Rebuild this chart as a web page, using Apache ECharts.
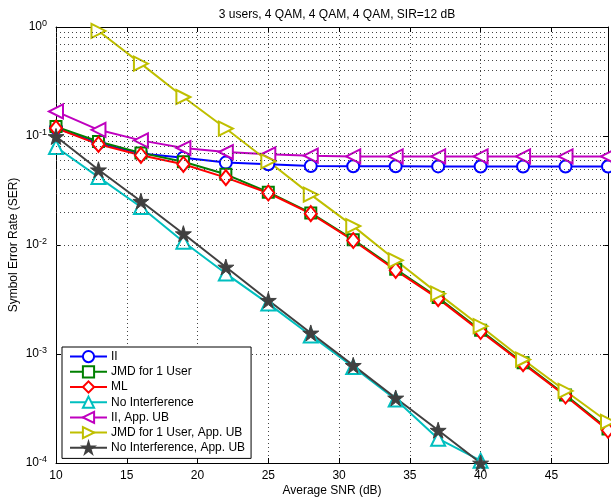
<!DOCTYPE html>
<html><head><meta charset="utf-8">
<script src="https://cdn.jsdelivr.net/npm/echarts@6/dist/echarts.min.js"></script>
<style>html,body{margin:0;padding:0;background:#fff}#c{width:611px;height:502px}</style>
</head><body><div id="c"></div>
<script>
var snr = [10,13,16,19,22,25,28,31,34,37,40,43,46,49];
var serII = [0.118,0.086,0.069,0.0633,0.057,0.055,0.053,0.0528,0.0527,0.0526,0.0525,0.0525,0.0525,0.0525];
var serJMD = [0.122,0.089,0.070,0.058,0.0445,0.0305,0.0197,0.0112,0.0060,0.0033,0.00165,0.00083,0.00042,0.000205];
var serML = [0.118,0.0839,0.0665,0.055,0.0415,0.030,0.0194,0.011,0.00586,0.00322,0.00161,0.000816,0.000412,0.0002];
var serNoInt = [0.0793,0.042,0.0223,0.0107,0.00547,0.0029,0.00148,0.00076,0.000382,0.000167,0.000105];
var serIIUB = [0.168,0.114,0.0912,0.0776,0.0713,0.068,0.066,0.065,0.065,0.065,0.065,0.065,0.065,0.065];
var serJMDUB = [null,0.92,0.461,0.228,0.117,0.0586,0.029,0.0149,0.00724,0.00358,0.0018,0.00089,0.000458,0.000238];
var serNoIntUB = [0.099,0.049,0.0252,0.0127,0.00628,0.00311,0.00156,0.000787,0.000395,0.0002,0.0001];
var names = ['II','JMD for 1 User','ML','No Interference','II, App. UB','JMD for 1 User, App. UB','No Interference, App. UB'];
var minorGrid = [];
[1e-4,1e-3,1e-2,1e-1].forEach(function(d){for(var k=2;k<=9;k++){minorGrid.push(+(d*k).toPrecision(3));}});

function pairs(ys){var out=[];for(var i=0;i<ys.length;i++){if(ys[i]!=null)out.push([snr[i],ys[i]]);}return out;}
var star = 'path://M50,0 L61,35 L98,35 L68,57 L79,91 L50,70 L21,91 L32,57 L2,35 L39,35 Z';
var FONT = 'Liberation Sans';
function mk(name, ys, color, symbol, size, rot){
  return {name:name,type:'line',data:pairs(ys),symbol:symbol,symbolSize:size,symbolRotate:rot||0,
    showAllSymbol:true,clip:true,
    lineStyle:{color:color,width:2},
    itemStyle:{color:color,borderColor:color,borderWidth:2},
    emphasis:{disabled:true},animation:false};
}
var series = [
  mk(names[0],serII,'#0000ff','emptyCircle',12),
  mk(names[1],serJMD,'#008000','emptyRect',11),
  mk(names[2],serML,'#ff0000','emptyDiamond',[12,15]),
  mk(names[3],serNoInt,'#00bfbf','emptyTriangle',14),
  mk(names[4],serIIUB,'#bf00bf','emptyTriangle',14,90),
  mk(names[5],serJMDUB,'#bfbf00','emptyTriangle',14,-90),
  mk(names[6],serNoIntUB,'#404040',star,16)
];
series[6].itemStyle.borderWidth = 1;
series.push({type:'line',data:[],silent:true,markLine:{silent:true,symbol:'none',label:{show:false},animation:false,
  lineStyle:{color:'#444',type:[1,3],width:1},
  data:minorGrid.map(function(v){return {yAxis:v};})}});
var chart = echarts.init(document.getElementById('c'),null,{renderer:'canvas'});
chart.setOption({
  animation:false,
  backgroundColor:'#fff',
  title:{text:'3 users, 4 QAM, 4 QAM, 4 QAM, SIR=12 dB',left:332,top:4,textAlign:'center',
    textStyle:{fontFamily:FONT,fontSize:12,fontWeight:'normal',color:'#000'}},
  grid:{left:56,right:3,top:27,bottom:39,containLabel:false,outerBoundsMode:'none'},
  legend:{orient:'vertical',left:62,top:347,itemWidth:37,itemHeight:14,itemGap:2,
    padding:[3,6,4,7],backgroundColor:'#fff',borderColor:'#000',borderWidth:1,borderRadius:0,
    data:names,textStyle:{fontFamily:FONT,fontSize:12,color:'#000',padding:[0,0,0,-1]},selectedMode:false},
  xAxis:[{type:'value',min:10,max:49,interval:5,position:'bottom',
    axisLine:{lineStyle:{color:'#000',width:1}},axisTick:{inside:true,length:5,lineStyle:{color:'#000'}},
    axisLabel:{fontFamily:FONT,fontSize:12,color:'#000',margin:7,showMaxLabel:false},
    splitLine:{show:true,lineStyle:{color:'#444',type:[1,3],width:1}},
    name:'Average SNR (dB)',nameLocation:'middle',nameGap:22,nameMoveOverlap:false,nameTextStyle:{fontFamily:FONT,fontSize:12,color:'#000'}},
   {type:'value',min:10,max:49,interval:5,position:'top',
    axisLine:{lineStyle:{color:'#000',width:1}},axisTick:{inside:true,length:5,lineStyle:{color:'#000'}},
    axisLabel:{show:false},splitLine:{show:false}}],
  yAxis:[{type:'log',min:1e-4,max:1,logBase:10,position:'left',
    axisLine:{show:true,lineStyle:{color:'#000',width:1}},axisTick:{show:true,inside:true,length:5,lineStyle:{color:'#000'}},
    axisLabel:{margin:9,formatter:function(v){var e=Math.round(Math.log10(v));return '{b|10}{s|'+e+'}';},
      rich:{b:{fontFamily:FONT,fontSize:12,color:'#000'},s:{fontFamily:FONT,fontSize:9,color:'#000',verticalAlign:'top',padding:[0,0,6,0]}}},
    splitLine:{show:true,lineStyle:{color:'#444',type:[1,3],width:1}},
    name:'Symbol Error Rate (SER)',nameLocation:'middle',nameGap:36,nameRotate:90,nameMoveOverlap:false,
    nameTextStyle:{fontFamily:FONT,fontSize:12,color:'#000'}},
   {type:'log',min:1e-4,max:1,logBase:10,position:'right',
    axisLine:{show:true,lineStyle:{color:'#000',width:1}},axisTick:{show:true,inside:true,length:5,lineStyle:{color:'#000'}},
    axisLabel:{show:false},splitLine:{show:false}}],
  series:series
});
</script></body></html>
